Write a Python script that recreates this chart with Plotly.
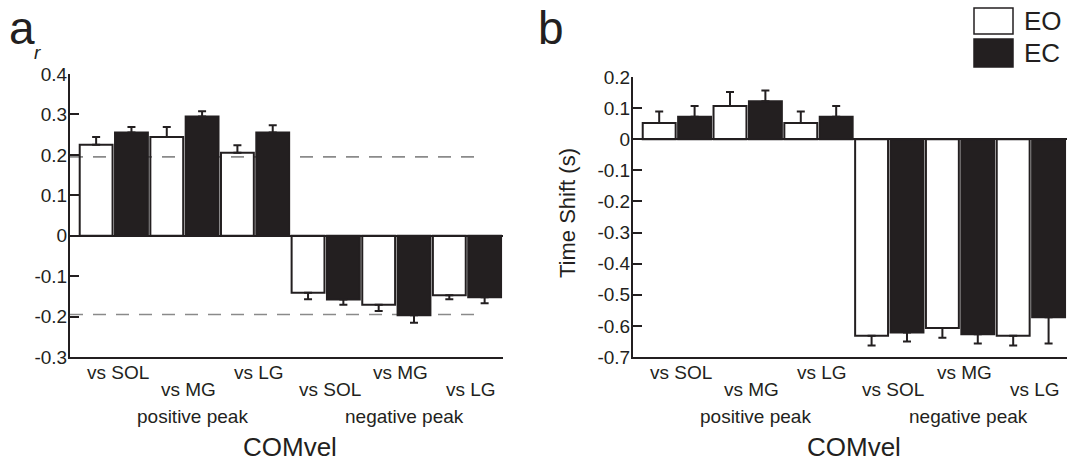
import plotly.graph_objects as go

# ---------------- data ----------------
comparisons = ["vs SOL", "vs MG", "vs LG", "vs SOL", "vs MG", "vs LG"]
peak_groups = ["positive peak", "negative peak"]
series_names = ["EO", "EC"]

a_eo = [0.225, 0.244, 0.205, -0.141, -0.171, -0.147]
a_eo_err = [0.019, 0.025, 0.019, 0.016, 0.015, 0.010]
a_ec = [0.255, 0.295, 0.255, -0.158, -0.197, -0.152]
a_ec_err = [0.014, 0.013, 0.018, 0.013, 0.018, 0.015]
a_threshold = 0.195

b_eo = [0.052, 0.107, 0.052, -0.632, -0.607, -0.632]
b_eo_err = [0.037, 0.045, 0.037, 0.031, 0.031, 0.031]
b_ec = [0.072, 0.122, 0.072, -0.621, -0.627, -0.572]
b_ec_err = [0.035, 0.035, 0.035, 0.029, 0.030, 0.085]

a_ticks = [0.4, 0.3, 0.2, 0.1, 0, -0.1, -0.2, -0.3]
a_ticklabels = ["0.4", "0.3", "0.2", "0.1", "0", "-0.1", "-0.2", "-0.3"]
b_ticks = [0.2, 0.1, 0, -0.1, -0.2, -0.3, -0.4, -0.5, -0.6, -0.7]
b_ticklabels = ["0.2", "0.1", "0", "-0.1", "-0.2", "-0.3", "-0.4", "-0.5", "-0.6", "-0.7"]

# ---------------- style ----------------
INK = "#231f20"
FONT = "Liberation Sans, Arial, Helvetica, sans-serif"
W, H = 1070, 466
BARW = 0.93


def px_x(x):
    return x / W


def px_y(y):
    return (H - y) / H


def err_arrays(vals, errs):
    plus = [e if v > 0 else 0 for v, e in zip(vals, errs)]
    minus = [e if v < 0 else 0 for v, e in zip(vals, errs)]
    return plus, minus


fig = go.Figure()

panels = [
    ("x", "y", a_eo, a_eo_err, a_ec, a_ec_err),
    ("x2", "y2", b_eo, b_eo_err, b_ec, b_ec_err),
]

for xa, ya, eo, eo_err, ec, ec_err in panels:
    n = len(comparisons)
    x_eo = [2 * i for i in range(n)]
    x_ec = [2 * i + 1 for i in range(n)]
    for name, xs, vals, errs, fill in [
        (series_names[0], x_eo, eo, eo_err, "rgba(0,0,0,0)"),
        (series_names[1], x_ec, ec, ec_err, INK),
    ]:
        plus, minus = err_arrays(vals, errs)
        fig.add_trace(go.Bar(
            x=xs, y=vals, name=name, width=BARW,
            marker=dict(color=fill, line=dict(color=INK, width=2)),
            error_y=dict(type="data", symmetric=False, array=plus,
                         arrayminus=minus, color=INK, thickness=2, width=4),
            xaxis=xa, yaxis=ya, showlegend=False, hoverinfo="skip",
        ))

xrange = [-0.74, 11.52]
common_x = dict(range=xrange, showline=True, linecolor=INK, linewidth=2,
                showticklabels=False, ticks="", showgrid=False, zeroline=False,
                fixedrange=True, automargin=False)
common_y = dict(showline=True, linecolor=INK, linewidth=2, ticks="inside",
                ticklen=9, tickwidth=2, tickcolor=INK, showgrid=False,
                zeroline=True, zerolinecolor=INK, zerolinewidth=2,
                tickfont=dict(size=19, color=INK, family=FONT),
                ticklabelstandoff=-3, automargin=False, fixedrange=True)

fig.update_layout(
    width=W, height=H, autosize=False,
    margin=dict(l=0, r=0, t=0, b=0, pad=0, autoexpand=False),
    paper_bgcolor="white", plot_bgcolor="white",
    barmode="overlay", showlegend=False,
    font=dict(family=FONT, color=INK),
    xaxis=dict(domain=[px_x(70), px_x(503)], anchor="y", **common_x),
    xaxis2=dict(domain=[px_x(633), px_x(1067)], anchor="y2", **common_x),
    yaxis=dict(domain=[px_y(357), px_y(74)], range=[-0.3, 0.4], anchor="x",
               tickvals=a_ticks, ticktext=a_ticklabels, **common_y),
    yaxis2=dict(domain=[px_y(357), px_y(77)], range=[-0.7, 0.2], anchor="x2",
                tickvals=b_ticks, ticktext=b_ticklabels, **common_y),
)

# dashed threshold lines (panel a)
for yv in (a_threshold, -a_threshold):
    fig.add_shape(type="line", xref="x domain", yref="y", x0=0, x1=0.954,
                  y0=yv, y1=yv, layer="below",
                  line=dict(color="#8a8a8a", width=1.6, dash="13px,10px"))

ann = []
for xa in ("x", "x2"):
    for i, lab in enumerate(comparisons):
        row_y = 372 if i % 2 == 0 else 389
        ann.append(dict(x=2 * i + 0.5, xref=xa, y=px_y(row_y), yref="paper",
                        text=lab, showarrow=False, xshift=4,
                        font=dict(size=19, color=INK, family=FONT),
                        xanchor="center", yanchor="middle"))
    for g, lab in enumerate(peak_groups):
        ann.append(dict(x=6 * g + 2.5, xref=xa, y=px_y(416), yref="paper",
                        text=lab, showarrow=False, xshift=8,
                        font=dict(size=19, color=INK, family=FONT),
                        xanchor="center", yanchor="middle"))
    ann.append(dict(x=5.5, xref=xa, y=px_y(447), yref="paper", text="COMvel",
                    showarrow=False, font=dict(size=26, color=INK, family=FONT),
                    xanchor="center", yanchor="middle"))

# panel letters
ann.append(dict(x=px_x(8), y=px_y(28), xref="paper", yref="paper", text="a",
                showarrow=False, xanchor="left", yanchor="middle", borderpad=0,
                font=dict(size=46, color=INK, family=FONT)))
ann.append(dict(x=px_x(537), y=px_y(28), xref="paper", yref="paper", text="b",
                showarrow=False, xanchor="left", yanchor="middle", borderpad=0,
                font=dict(size=46, color=INK, family=FONT)))
# y labels
ann.append(dict(x=px_x(37), y=px_y(53), xref="paper", yref="paper", text="<i>r</i>",
                showarrow=False, xanchor="center", yanchor="middle", borderpad=0,
                font=dict(size=19, color=INK, family=FONT)))
ann.append(dict(x=px_x(567), y=px_y(213), xref="paper", yref="paper",
                text="Time Shift (s)", textangle=-90, showarrow=False,
                xanchor="center", yanchor="middle",
                font=dict(size=22, color=INK, family=FONT)))

# legend (manual)
legend_rows = [(8, 34, "white"), (39, 67, INK)]
for (y0, y1, fill), name in zip(legend_rows, series_names):
    fig.add_shape(type="rect", xref="paper", yref="paper",
                  x0=px_x(974), x1=px_x(1013), y0=px_y(y1), y1=px_y(y0),
                  fillcolor=fill, line=dict(color=INK, width=1.5))
    ann.append(dict(x=px_x(1022), y=px_y((y0 + y1) / 2), xref="paper", yref="paper",
                    text=name, showarrow=False, xanchor="left", yanchor="middle",
                    font=dict(size=26, color=INK, family=FONT)))

fig.update_layout(annotations=ann)
fig.write_html("out.html", config={"displayModeBar": False, "staticPlot": True},
               post_script="document.body.style.margin='0';document.body.style.overflow='hidden';")
